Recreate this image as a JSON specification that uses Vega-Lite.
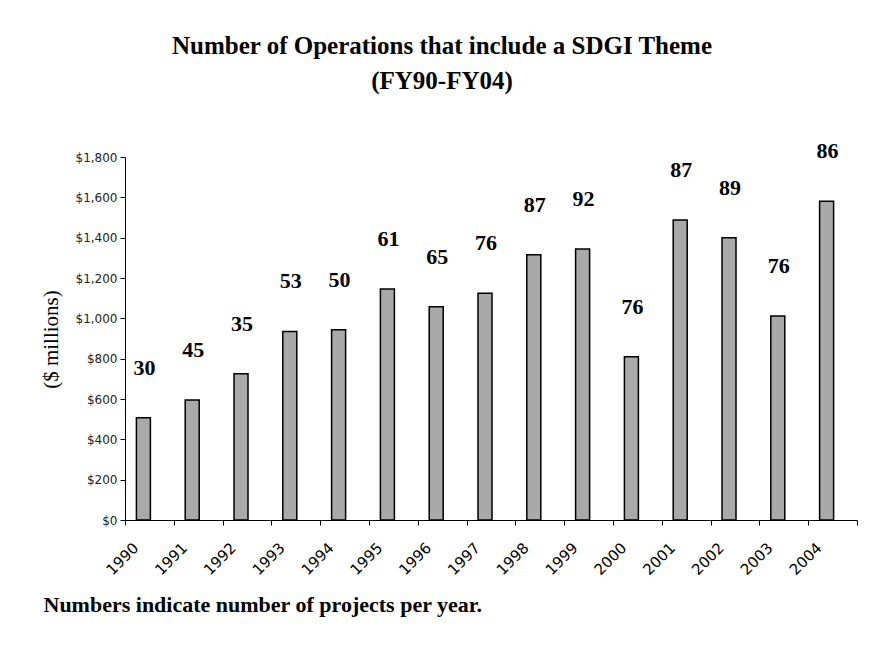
{
  "$schema": "https://vega.github.io/schema/vega-lite/v6.json",
  "width": 732,
  "height": 363,
  "autosize": {"type": "none"},
  "padding": {"left": 125, "top": 157, "right": 31, "bottom": 136},
  "background": "white",
  "title": {
    "text": ["Number of Operations that include a SDGI Theme", "(FY90-FY04)"],
    "font": "Liberation Serif",
    "fontSize": 25,
    "fontWeight": "bold",
    "lineHeight": 35,
    "color": "black",
    "anchor": "middle",
    "dx": -49,
    "offset": 46
  },
  "data": {
    "values": [
      {"year": "1990", "amount": 507, "projects": 30},
      {"year": "1991", "amount": 595, "projects": 45},
      {"year": "1992", "amount": 725, "projects": 35},
      {"year": "1993", "amount": 935, "projects": 53},
      {"year": "1994", "amount": 943, "projects": 50},
      {"year": "1995", "amount": 1145, "projects": 61},
      {"year": "1996", "amount": 1057, "projects": 65},
      {"year": "1997", "amount": 1125, "projects": 76},
      {"year": "1998", "amount": 1315, "projects": 87},
      {"year": "1999", "amount": 1344, "projects": 92},
      {"year": "2000", "amount": 810, "projects": 76},
      {"year": "2001", "amount": 1488, "projects": 87},
      {"year": "2002", "amount": 1400, "projects": 89},
      {"year": "2003", "amount": 1012, "projects": 76},
      {"year": "2004", "amount": 1580, "projects": 86}
    ]
  },
  "encoding": {
    "x": {
      "field": "year",
      "type": "ordinal",
      "scale": {"paddingInner": 0, "paddingOuter": 0},
      "axis": {
        "title": "Numbers indicate number of projects per year.",
        "titleFont": "Liberation Serif",
        "titleFontSize": 22,
        "titleFontWeight": "bold",
        "titleColor": "black",
        "titleAnchor": "start",
        "titleAlign": "left",
        "titleBaseline": "middle",
        "titleX": -82,
        "titleY": 84,
        "labelAngle": -45,
        "labelAlign": "right",
        "labelBaseline": "middle",
        "labelOffset": -14,
        "labelPadding": 20,
        "labelFont": "DejaVu Sans",
        "labelFontSize": 15,
        "labelColor": "black",
        "tickBand": "extent",
        "tickSize": 5,
        "tickColor": "black",
        "domainColor": "black",
        "grid": false
      }
    },
    "y": {
      "field": "amount",
      "type": "quantitative",
      "scale": {"domain": [0, 1800]},
      "axis": {
        "title": "($ millions)",
        "titleFont": "Liberation Serif",
        "titleFontSize": 21,
        "titleFontWeight": "normal",
        "titleColor": "black",
        "titleX": -74,
        "titleY": 182,
        "titleAngle": -90,
        "titleAlign": "center",
        "titleBaseline": "middle",
        "values": [0, 200, 400, 600, 800, 1000, 1200, 1400, 1600, 1800],
        "format": "$,.0f",
        "labelFont": "DejaVu Sans",
        "labelFontSize": 12,
        "labelColor": "#222222",
        "labelPadding": 3,
        "tickSize": 5,
        "tickColor": "black",
        "domainColor": "black",
        "grid": false
      }
    }
  },
  "layer": [
    {
      "mark": {"type": "bar", "width": 14, "fill": "#a9a9a9", "stroke": "black", "strokeWidth": 1.5, "xOffset": -6}
    },
    {
      "mark": {"type": "text", "font": "Liberation Serif", "fontSize": 22, "fontWeight": "bold", "color": "black", "baseline": "middle", "dy": -50, "xOffset": -5},
      "encoding": {"text": {"field": "projects", "type": "quantitative"}}
    }
  ],
  "config": {"view": {"stroke": null}}
}
